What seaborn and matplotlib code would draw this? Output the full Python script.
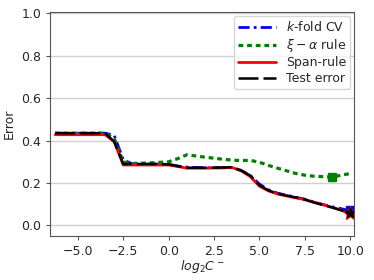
import matplotlib
matplotlib.use("Agg")
import matplotlib.pyplot as plt
import seaborn as sns

# log2 C- grid shared by all curves
log2c = [-6.25, -3.5, -3.0, -2.5, -2.0, -1.0, 0.0, 0.5, 1.0, 2.0, 3.0, 3.5,
         4.0, 4.5, 5.0, 5.5, 6.0, 7.0, 7.5, 8.0, 9.0, 10.0]

kfold_cv = [0.435, 0.435, 0.425, 0.31, 0.29, 0.29, 0.288, 0.28, 0.275, 0.272, 0.272, 0.272,
            0.26, 0.235, 0.195, 0.168, 0.152, 0.133, 0.124, 0.11, 0.088, 0.07]
xi_alpha = [0.435, 0.435, 0.41, 0.30, 0.292, 0.295, 0.30, 0.315, 0.333, 0.322, 0.312, 0.308,
            0.306, 0.307, 0.298, 0.283, 0.27, 0.245, 0.237, 0.232, 0.228, 0.245]
span_rule = [0.428, 0.428, 0.395, 0.285, 0.285, 0.285, 0.285, 0.278, 0.27, 0.27, 0.272, 0.273,
             0.258, 0.23, 0.185, 0.163, 0.148, 0.13, 0.122, 0.11, 0.085, 0.06]
test_error = [0.435, 0.435, 0.395, 0.29, 0.29, 0.29, 0.288, 0.28, 0.272, 0.272, 0.273, 0.275,
              0.258, 0.235, 0.19, 0.165, 0.15, 0.132, 0.122, 0.108, 0.085, 0.058]

# selected points (minimum of each criterion)
best_x = [10.0, 9.0, 10.0, 10.0]
best_y = [0.072, 0.228, 0.06, 0.058]

sns.set_style("ticks")
plt.rcParams['font.family'] = ['DejaVu Sans']
plt.rcParams['font.size'] = 9

fig, ax = plt.subplots(figsize=(3.74, 2.8), dpi=100)
fig.subplots_adjust(left=0.134, right=0.947, top=0.956, bottom=0.157)

sns.lineplot(x=log2c, y=kfold_cv, ax=ax, color="blue", lw=2,
             linestyle=(0, (4, 1.5, 1, 1.5)), label="$k$-fold CV")
sns.lineplot(x=log2c, y=xi_alpha, ax=ax, color="green", lw=2.3,
             linestyle=(0, (1.5, 1.2)), label=r"$\xi-\alpha$ rule")
sns.lineplot(x=log2c, y=span_rule, ax=ax, color="red", lw=2,
             linestyle="-", label="Span-rule")
sns.lineplot(x=log2c, y=test_error, ax=ax, color="black", lw=1.8,
             linestyle=(0, (8, 2)), label="Test error")

ax.plot(best_x[0], best_y[0], marker="s", color="blue", ms=6)
ax.plot(best_x[1], best_y[1], marker="s", color="green", ms=6)
ax.plot(best_x[2], best_y[2], marker="*", color="red", ms=10)
ax.plot(best_x[3], best_y[3], marker="*", color="black", ms=8)

ax.set_xlim(-6.53, 10.22)
ax.set_ylim(-0.05, 1.005)
ax.set_xticks([-5.0, -2.5, 0.0, 2.5, 5.0, 7.5, 10.0])
ax.set_yticks([0.0, 0.2, 0.4, 0.6, 0.8, 1.0])
ax.yaxis.grid(True, color="#d0d0d0", lw=1)
ax.set_axisbelow(True)
for s in ax.spines.values():
    s.set_color("#555555")
    s.set_visible(True)
ax.tick_params(length=3, color="#555555", labelsize=9)

ax.set_xlabel("$log_2C^-$", fontsize=9, labelpad=0)
ax.set_ylabel("Error", fontsize=9)
ax.legend(loc="upper right", fontsize=9, handlelength=3, borderpad=0.35,
          labelspacing=0.2, borderaxespad=0.3)

fig.savefig("out.png", dpi=100)
